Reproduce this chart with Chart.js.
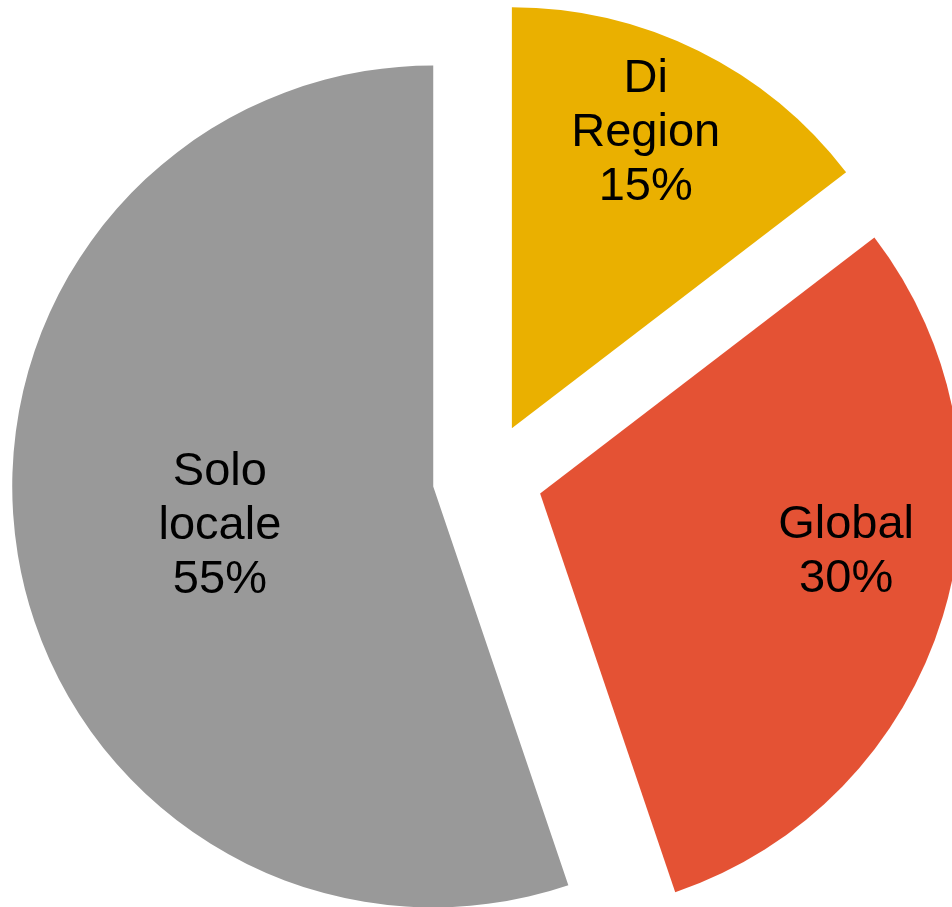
<!DOCTYPE html>
<html>
<head>
<meta charset="utf-8">
<title>Pie</title>
<script src="https://cdn.jsdelivr.net/npm/chart.js@4"></script>
<style>
  html, body { margin: 0; padding: 0; background: #fff; }
  #wrap { width: 952px; height: 907px; }
</style>
</head>
<body>
<div id="wrap"><canvas id="myChart"></canvas></div>
<script>
// slice data (percent shares, labels show them rounded)
var labels = [["Di", "Region"], ["Global"], ["Solo", "locale"]];
var values = [14.6, 30.2, 55.2];
var colors = ['rgb(234, 176, 0)', 'rgb(228, 82, 52)', 'rgb(153, 153, 153)'];

// where each label sits: fraction of radius and angle shift (degrees) from the slice middle
var labelPlace = [
    { r: 0.90, shift: -1.6 },
    { r: 0.87, shift: -5.2 },
    { r: 0.646, shift: -0.9 }
];

var total = values.reduce(function(a, b) { return a + b; }, 0);

// pull every slice out by the same distance (the built-in offset also grows
// the radius and trims the angles, so the arcs are shifted here instead)
var explodePie = {
    id: 'explodePie',
    beforeDatasetDraw: function(chart, args, opts) {
        var ctx = chart.ctx;
        args.meta.data.forEach(function(arc) {
            var p = arc.getProps(['startAngle', 'endAngle'], true);
            var mid = (p.startAngle + p.endAngle) / 2;
            ctx.save();
            ctx.translate(Math.cos(mid) * opts.distance, Math.sin(mid) * opts.distance);
            arc.draw(ctx);
            ctx.restore();
        });
        return false;
    }
};

var sliceLabels = {
    id: 'sliceLabels',
    afterDatasetsDraw: function(chart) {
        var ctx = chart.ctx;
        var meta = chart.getDatasetMeta(0);
        ctx.save();
        ctx.fillStyle = '#000';
        ctx.font = '47px "Liberation Sans", Arial, sans-serif';
        ctx.textAlign = 'center';
        ctx.textBaseline = 'middle';
        meta.data.forEach(function(arc, i) {
            var p = arc.getProps(['x', 'y', 'startAngle', 'endAngle', 'outerRadius'], true);
            var mid = (p.startAngle + p.endAngle) / 2 + labelPlace[i].shift * Math.PI / 180;
            var r = p.outerRadius * labelPlace[i].r;
            var cx = p.x + Math.cos(mid) * r;
            var cy = p.y + Math.sin(mid) * r;
            var lines = labels[i].concat([Math.round(values[i] / total * 100) + '%']);
            var lh = 54;
            lines.forEach(function(t, k) {
                ctx.fillText(t, cx, cy + (k - (lines.length - 1) / 2) * lh);
            });
        });
        ctx.restore();
    }
};

var ctx = document.getElementById('myChart').getContext('2d');
var chart = new Chart(ctx, {
    type: 'pie',
    data: {
        labels: labels.map(function(l) { return l.join(' '); }),
        datasets: [{
            data: values,
            backgroundColor: colors,
            borderWidth: 0,
            offset: 0,
            hoverOffset: 0,
            radius: 421,
            clip: false
        }]
    },
    options: {
        responsive: true,
        maintainAspectRatio: false,
        animation: false,
        layout: { padding: { left: 23, top: 48, right: 0, bottom: 0 } },
        plugins: {
            legend: { display: false },
            tooltip: { enabled: false },
            explodePie: { distance: 55 }
        }
    },
    plugins: [explodePie, sliceLabels]
});
</script>
</body>
</html>
